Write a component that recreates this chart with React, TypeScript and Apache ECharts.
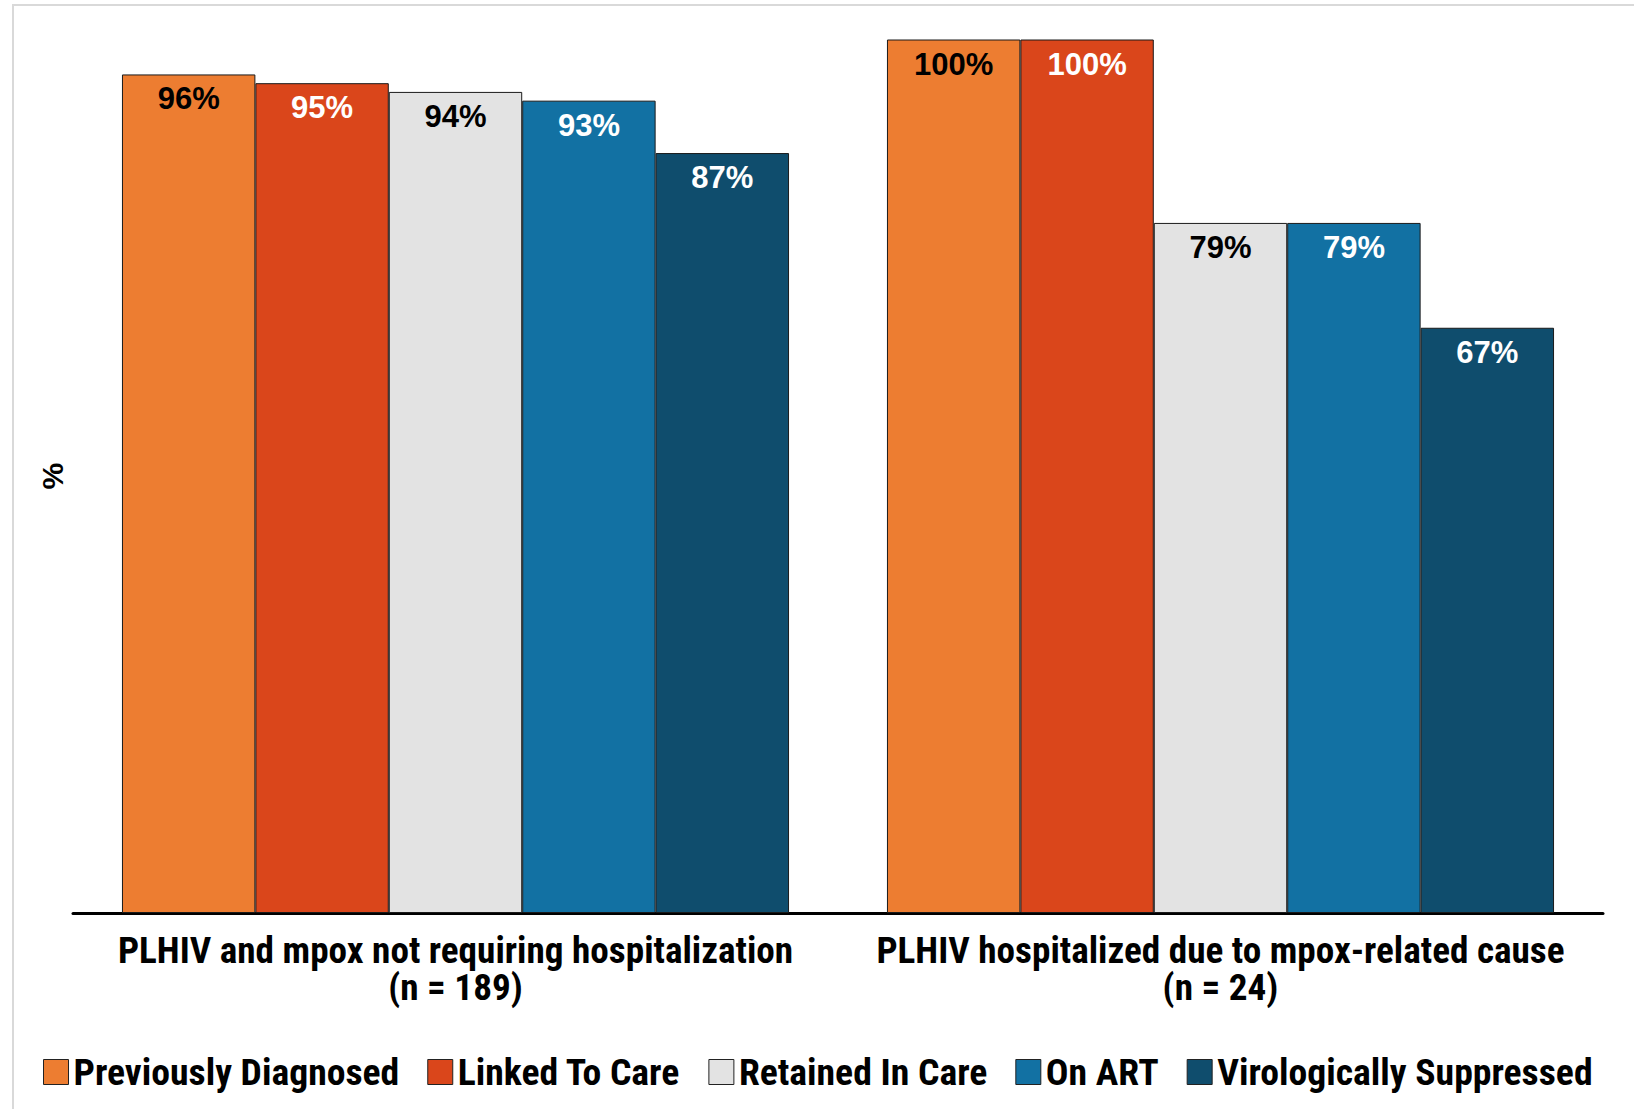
import React, { useEffect, useRef } from "react";
import * as echarts from "echarts";

const categories = [
  "PLHIV and mpox not requiring hospitalization\n(n = 189)",
  "PLHIV hospitalized due to mpox-related cause\n(n = 24)",
];
const seriesNames = [
  "Previously Diagnosed",
  "Linked To Care",
  "Retained In Care",
  "On ART",
  "Virologically Suppressed",
];
const previouslyDiagnosed = [96, 100];
const linkedToCare = [95, 100];
const retainedInCare = [94, 79];
const onART = [93, 79];
const virologicallySuppressed = [87, 67];
const seriesColors = ["#ED7D31", "#DA461B", "#E3E3E3", "#1271A3", "#0F4D6D"];
const labelColors = ["#000000", "#FFFFFF", "#000000", "#FFFFFF", "#FFFFFF"];

const NARROW = "'Roboto Condensed', 'Noto Sans Condensed', 'Liberation Sans Narrow', 'Liberation Sans', sans-serif";
const SANS = "'Liberation Sans', Arial, sans-serif";

export default function App() {
  const ref = useRef<HTMLDivElement>(null);
  useEffect(() => {
    if (!ref.current) return;
    const chart = echarts.init(ref.current, null, { renderer: "svg" });
    const values = [previouslyDiagnosed, linkedToCare, retainedInCare, onART, virologicallySuppressed];
    chart.setOption({
      animation: false,
      backgroundColor: "#ffffff",
      graphic: [
        {
          type: "rect",
          shape: { x: 13, y: 5, width: 1700, height: 1200 },
          style: { fill: "none", stroke: "#D9D9D9", lineWidth: 2 },
          silent: true,
        },
      ],
      grid: { left: 73, right: 31, top: 39.5, bottom: 196, containLabel: false, outerBoundsMode: "none" },
      legend: {
        left: 43,
        top: 1053,
        padding: 0,
        itemWidth: 25,
        itemHeight: 25,
        itemGap: 28,
        icon: "rect",
        data: seriesNames,
        itemStyle: { borderColor: "#222222", borderWidth: 1 },
        textStyle: {
          fontFamily: NARROW,
          fontWeight: "bold",
          fontSize: 37.7,
          lineHeight: 38,
          color: "#000000",
        },
      },
      xAxis: {
        type: "category",
        data: categories,
        axisLine: { show: true, lineStyle: { color: "#000000", width: 3 } },
        axisTick: { show: false },
        axisLabel: {
          interval: 0,
          margin: 18,
          fontFamily: NARROW,
          fontWeight: "bold",
          fontSize: 37.2,
          lineHeight: 37,
          color: "#000000",
        },
      },
      yAxis: {
        type: "value",
        min: 0,
        max: 100,
        name: "%",
        nameLocation: "middle",
        nameRotate: 90,
        nameGap: 6,
        nameTextStyle: { fontFamily: SANS, fontWeight: "bold", fontSize: 30, color: "#000000" },
        axisLine: { show: false },
        axisTick: { show: false },
        axisLabel: { show: false },
        splitLine: { show: false },
      },
      series: seriesNames.map((name, i) => ({
        name,
        type: "bar",
        data: values[i],
        barGap: "0%",
        barCategoryGap: "12.8%",
        itemStyle: { color: seriesColors[i], borderColor: "#1A1A1A", borderWidth: 1 },
        label: {
          show: true,
          position: "insideTop",
          distance: 9,
          formatter: "{c}%",
          fontFamily: SANS,
          fontWeight: "bold",
          fontSize: 31,
          color: labelColors[i],
        },
      })),
    });
    return () => chart.dispose();
  }, []);
  return (
    <div
      ref={ref}
      style={{ position: "fixed", left: 0, top: 0, width: 1634, height: 1109, background: "#fff" }}
    />
  );
}
